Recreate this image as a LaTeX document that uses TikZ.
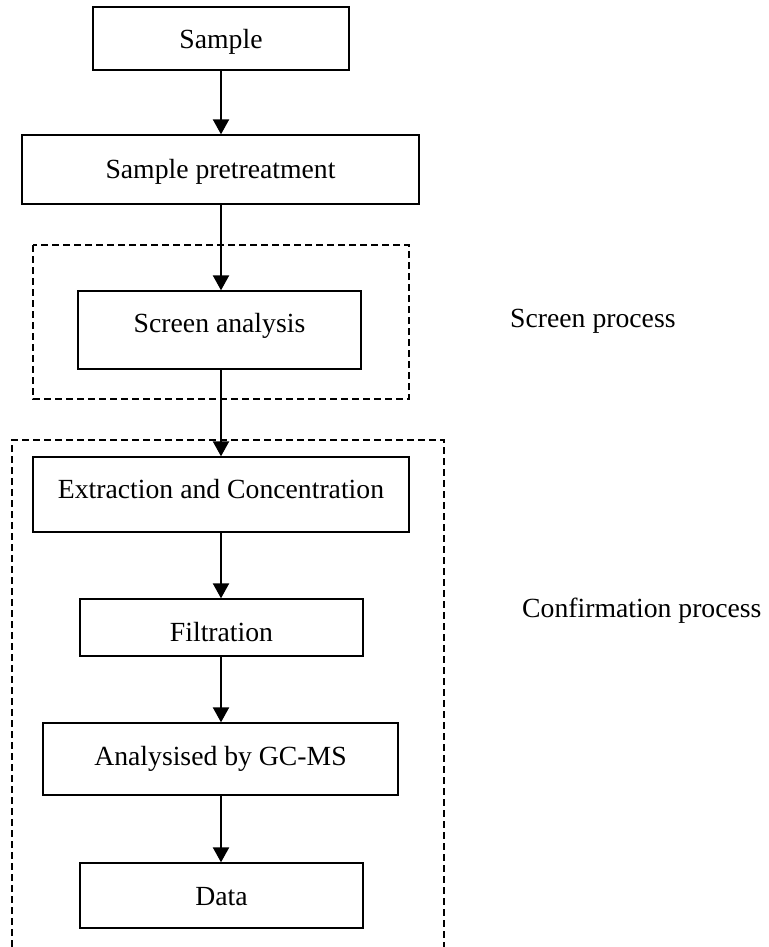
\documentclass[tikz,border=0pt]{standalone}
\usepackage{fontspec}
\setmainfont{Liberation Serif}
\usetikzlibrary{arrows.meta}
\begin{document}
\begin{tikzpicture}[x=1pt,y=-1pt,
  every node/.style={font=\fontsize{27.7}{33}\selectfont},
  stepbox/.style={draw, line width=1.3pt, rectangle, inner sep=0pt, text depth=6pt},
  flow/.style={line width=2.2pt, -{Triangle[length=15pt,width=16pt]}},
  groupbox/.style={line width=1.3pt, dash pattern=on 7pt off 4pt}]
\useasboundingbox (0,0) rectangle (768,947);
\fill[white] (0,0) rectangle (768,947);

\node[stepbox, minimum width=256pt, minimum height=63pt, text height=27pt] (sample) at (221,38.5) {Sample};
\node[stepbox, minimum width=397pt, minimum height=69pt, text height=23pt] (pretreat) at (220.5,169.5) {Sample pretreatment};
\node[stepbox, minimum width=283pt, minimum height=78pt, text height=10pt] (screen) at (219.5,330) {Screen analysis};
\node[stepbox, minimum width=376pt, minimum height=75pt, text height=13pt] (extract) at (221,494.5) {Extraction and Concentration};
\node[stepbox, minimum width=283pt, minimum height=57pt, text height=33pt] (filter) at (221.5,627.5) {Filtration};
\node[stepbox, minimum width=355pt, minimum height=72pt, text height=18pt] (gcms) at (220.5,759) {Analysised by GC-MS};
\node[stepbox, minimum width=283pt, minimum height=65pt, text height=25pt] (data) at (221.5,895.5) {Data};

\draw[groupbox] (33,245) rectangle (409,399);
\draw[groupbox] (12,947) -- (12,440) -- (444,440) -- (444,947);

\node[anchor=base west, inner sep=0pt] (screenlbl) at (510,327) {Screen process};
\node[anchor=base west, inner sep=0pt] (conflbl) at (522,617) {Confirmation process};

\draw[flow] (sample.south) -- (sample.south |- pretreat.north);
\draw[flow] (pretreat.south -| sample.south) -- (sample.south |- screen.north);
\draw[flow] (screen.south -| extract.north) -- (extract.north);
\draw[flow] (extract.south) -- (extract.south |- filter.north);
\draw[flow] (filter.south -| extract.south) -- (extract.south |- gcms.north);
\draw[flow] (gcms.south -| extract.south) -- (extract.south |- data.north);
\end{tikzpicture}
\end{document}
